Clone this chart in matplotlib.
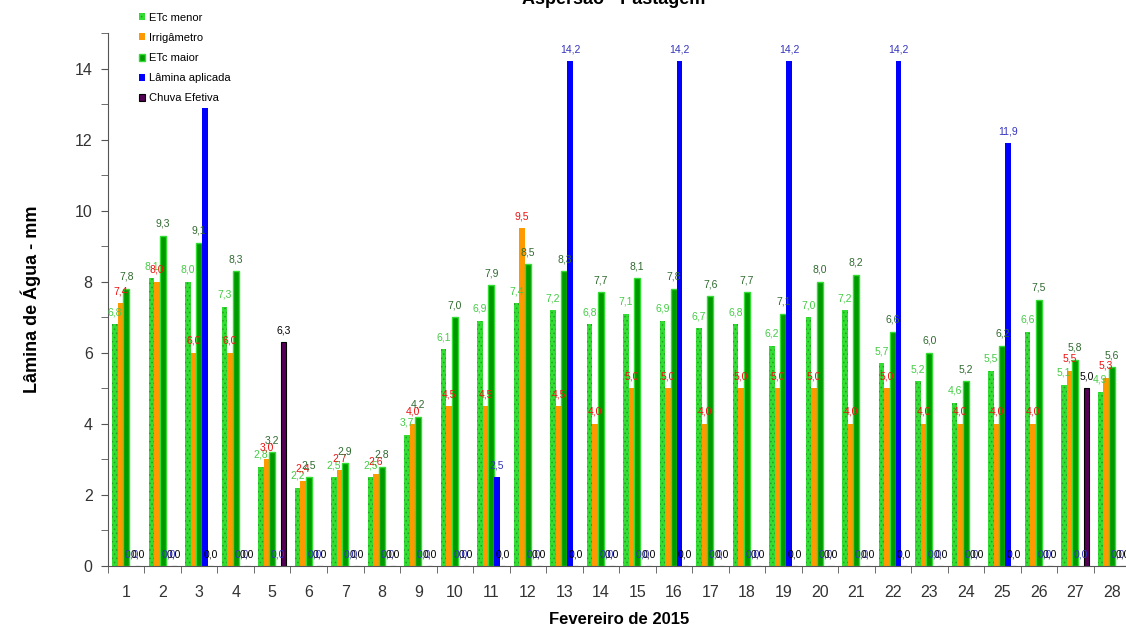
import numpy as np
import matplotlib
matplotlib.use("Agg")
import matplotlib.pyplot as plt
from matplotlib.ticker import MultipleLocator

plt.rcParams['font.family'] = ['Liberation Sans', 'DejaVu Sans']
plt.rcParams['hatch.linewidth'] = 0.6

dias = list(range(1, 29))
etc_menor = [6.8, 8.1, 8.0, 7.3, 2.8, 2.2, 2.5, 2.5, 3.7, 6.1, 6.9, 7.4, 7.2, 6.8,
             7.1, 6.9, 6.7, 6.8, 6.2, 7.0, 7.2, 5.7, 5.2, 4.6, 5.5, 6.6, 5.1, 4.9]
irrigametro = [7.4, 8.0, 6.0, 6.0, 3.0, 2.4, 2.7, 2.6, 4.0, 4.5, 4.5, 9.5, 4.5, 4.0,
               5.0, 5.0, 4.0, 5.0, 5.0, 5.0, 4.0, 5.0, 4.0, 4.0, 4.0, 4.0, 5.5, 5.3]
etc_maior = [7.8, 9.3, 9.1, 8.3, 3.2, 2.5, 2.9, 2.8, 4.2, 7.0, 7.9, 8.5, 8.3, 7.7,
             8.1, 7.8, 7.6, 7.7, 7.1, 8.0, 8.2, 6.6, 6.0, 5.2, 6.2, 7.5, 5.8, 5.6]
lamina = [0, 0, 12.9, 0, 0, 0, 0, 0, 0, 0, 2.5, 0, 14.2, 0,
          0, 14.2, 0, 0, 14.2, 0, 0, 14.2, 0, 0, 11.9, 0, 0, 0]
chuva = [0, 0, 0, 0, 6.3, 0, 0, 0, 0, 0, 0, 0, 0, 0,
         0, 0, 0, 0, 0, 0, 0, 0, 0, 0, 0, 0, 5.0, 0]

series = [
    ("ETc menor", etc_menor, dict(color="#33dd33", edgecolor="#22a022", hatch="....", linewidth=0), "#44cc44"),
    ("Irrigâmetro", irrigametro, dict(color="#ff9900", linewidth=0), "#ee1111"),
    ("ETc maior", etc_maior, dict(color="#009900", edgecolor="#33dd33", linewidth=1.0), "#2f6a2f"),
    ("Lâmina aplicada", lamina, dict(color="#0000ff", linewidth=0), "#3333bb"),
    ("Chuva Efetiva", chuva, dict(color="#550055", edgecolor="black", linewidth=0.8), "black"),
]

fig = plt.figure(figsize=(11.26, 6.33), dpi=100)
ax = fig.add_axes([0.0959, 0.1058, 0.9077, 0.842])

x = np.array(dias)
w = 0.155
for i, (name, vals, style, lab_col) in enumerate(series):
    pos = x + (i - 2) * w
    ax.bar(pos, vals, width=w, label=name, zorder=2, **style)
    for px, v in zip(pos, vals):
        ax.annotate(f"{v:.1f}".replace(".", ","), (px, v), xytext=(0, 5),
                    textcoords="offset points", ha="center", va="bottom",
                    fontsize=7.5, color=lab_col, zorder=3)

ax.set_xlim(0.5, 28.5)
ax.set_ylim(0, 15)
ax.set_xticks(dias)
ax.set_xticklabels([str(d) for d in dias], fontsize=11.5, color="#333333")
ax.tick_params(axis="x", length=0, pad=14)
ax.set_xticks(np.arange(0.5, 29, 1), minor=True)
ax.tick_params(axis="x", which="minor", length=5, direction="out", color="#555555")
ax.yaxis.set_major_locator(MultipleLocator(2))
ax.yaxis.set_minor_locator(MultipleLocator(1))
ax.tick_params(axis="y", which="both", length=5, direction="out", color="#555555",
               labelsize=11.5, labelcolor="#333333", pad=6)
ax.spines["top"].set_visible(False)
ax.spines["right"].set_visible(False)
ax.spines["left"].set_color("#555555")
ax.spines["bottom"].set_color("#555555")

ax.set_ylabel("Lâmina de Água - mm", fontsize=13, fontweight="bold", labelpad=24)
ax.set_xlabel("Fevereiro de 2015", fontsize=12, fontweight="bold", labelpad=8)
fig.text(0.545, 1.0, "Aspersão - Pastagem", ha="center", va="center",
         fontsize=13, fontweight="bold")

leg = ax.legend(loc="upper left", bbox_to_anchor=(0.022, 1.054), fontsize=8,
                frameon=True, framealpha=1, edgecolor="white", handlelength=0.6,
                handleheight=0.6, handletextpad=0.3, labelspacing=0.92,
                borderpad=0.25)
leg.set_zorder(10)

fig.savefig("out.png", dpi=100)
